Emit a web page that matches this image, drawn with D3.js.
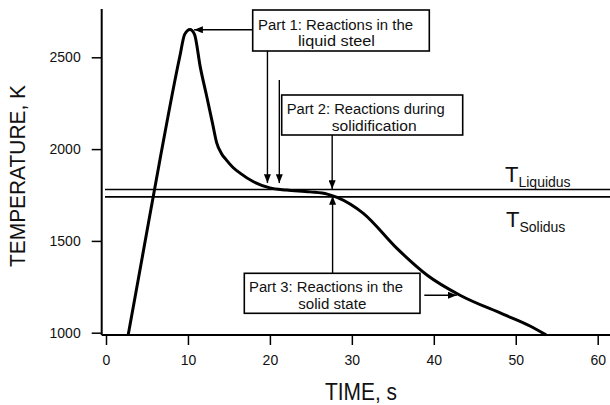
<!DOCTYPE html>
<html>
<head>
<meta charset="utf-8">
<script src="https://cdn.jsdelivr.net/npm/d3@7"></script>
<style>
  body { margin: 0; background: #fff; }
  text { font-family: "Liberation Sans", Arial, sans-serif; fill: #111; }
</style>
</head>
<body>
<svg id="chart" width="610" height="405"></svg>
<script>
// curve: time (s) and temperature (K)
var time = [2.7, 4.6, 6.5, 9.0, 9.6, 10.25, 10.8, 11.5, 12.3, 13.0, 13.5, 14.1, 14.7, 15.5, 16.4, 18.0, 20.0, 22.0, 24.9, 27.0, 28.2, 31.4, 35.5, 39.2, 43.2, 48.5, 51.8, 53.7]
var temp = [986, 1454, 1922, 2503, 2625, 2652, 2625, 2448, 2285, 2140, 2035, 1975, 1940, 1900, 1868, 1822, 1789, 1777, 1767, 1755, 1737, 1650, 1459, 1313, 1204, 1100, 1035, 988]

var liquidus = 1780
var solidus = 1740

var xTicks = [0, 10, 20, 30, 40, 50, 60]
var yTicks = [1000, 1500, 2000, 2500]

// annotation texts and where their arrows point (time, temperature)
var boxText = [
    ["Part 1: Reactions in the", "liquid steel"],
    ["Part 2: Reactions during", "solidification"],
    ["Part 3: Reactions in the", "solid state"]
]
var arrowTips = [
    [10.75, 2650], [19.7, 1815], [21.15, 1815],
    [27.6, 1782], [27.65, 1744], [42.8, 1204]
]

var svg = d3.select("#chart")

var x = d3.scaleLinear().domain([0, 60]).range([106, 597.7])
var y = d3.scaleLinear().domain([1000, 2500]).range([332.7, 57.3])

var axisX = 101.7
var axisY = 335

// arrow head
svg.append("defs").append("marker")
    .attr("id", "head")
    .attr("markerUnits", "userSpaceOnUse")
    .attr("viewBox", "0 0 10 8")
    .attr("refX", 10).attr("refY", 4)
    .attr("markerWidth", 10).attr("markerHeight", 7)
    .attr("orient", "auto")
    .append("path")
    .attr("d", "M0,0L10,4L0,8Z")
    .attr("fill", "#000")

// y axis
svg.append("line")
    .attr("x1", axisX).attr("x2", axisX)
    .attr("y1", 9).attr("y2", axisY)
    .attr("stroke", "#000").attr("stroke-width", 2)

var yAxis = d3.axisLeft(y).tickValues(yTicks).tickFormat(d3.format("d"))
    .tickSize(10).tickSizeOuter(0).tickPadding(11)
svg.append("g")
    .attr("transform", "translate(" + axisX + ",0)")
    .call(yAxis)
    .call(function (g) { g.select(".domain").remove() })
    .call(function (g) {
        g.selectAll(".tick line").attr("stroke", "#000").attr("stroke-width", 1.5)
        g.selectAll(".tick text").style("font-size", "14px").attr("fill", "#222")
    })

// x axis
svg.append("line")
    .attr("x1", axisX).attr("x2", 610)
    .attr("y1", axisY).attr("y2", axisY)
    .attr("stroke", "#000").attr("stroke-width", 2)

var xAxis = d3.axisBottom(x).tickValues(xTicks).tickSize(10).tickSizeOuter(0).tickPadding(10)
svg.append("g")
    .attr("transform", "translate(0," + axisY + ")")
    .call(xAxis)
    .call(function (g) { g.select(".domain").remove() })
    .call(function (g) {
        g.selectAll(".tick line").attr("stroke", "#000").attr("stroke-width", 1.5)
        g.selectAll(".tick text").style("font-size", "14px").attr("fill", "#222")
    })

// axis titles
svg.append("text")
    .attr("x", 361).attr("y", 400)
    .attr("text-anchor", "middle")
    .attr("textLength", 72).attr("lengthAdjust", "spacingAndGlyphs")
    .style("font-size", "23px")
    .text("TIME, s")

svg.append("text")
    .attr("transform", "translate(25,176) rotate(-90)")
    .attr("text-anchor", "middle")
    .attr("textLength", 182).attr("lengthAdjust", "spacingAndGlyphs")
    .style("font-size", "22px")
    .text("TEMPERATURE, K")

// liquidus and solidus lines
svg.selectAll(".phase")
    .data([liquidus, solidus])
    .enter()
    .append("line")
    .attr("x1", 105).attr("x2", 610)
    .attr("y1", function (d) { return y(d) })
    .attr("y2", function (d) { return y(d) })
    .attr("stroke", "#000").attr("stroke-width", 1.6)

function tLabel(xp, yp, sub) {
    var t = svg.append("text").attr("x", xp).attr("y", yp).style("font-size", "22px")
    t.append("tspan").text("T")
    t.append("tspan").attr("dy", 5).style("font-size", "14px").text(sub)
}
tLabel(505, 182, "Liquidus")
tLabel(506, 227, "Solidus")

// the temperature curve
var points = time.map(function (t, i) { return [t, temp[i]] })
var line = d3.line()
    .x(function (d) { return x(d[0]) })
    .y(function (d) { return y(d[1]) })
    .curve(d3.curveMonotoneX)

svg.append("path")
    .datum(points)
    .attr("d", line)
    .attr("fill", "none")
    .attr("stroke", "#000")
    .attr("stroke-width", 3)
    .attr("stroke-linejoin", "round")

// annotation boxes
var boxes = [
    { x0: 252.7, x1: 429.3, y0: 10, y1: 51, tx: [258, 298], ty: [29.5, 45.5], tw: [155, 77] },
    { x0: 281.7, x1: 462.7, y0: 95, y1: 135, tx: [286.7, 331.7], ty: [114, 130.5], tw: [158, 85] },
    { x0: 244.3, x1: 420, y0: 273.3, y1: 313.3, tx: [249, 298.3], ty: [292, 308.5], tw: [154, 68] }
]

boxes.forEach(function (b, i) {
    svg.append("rect")
        .attr("x", b.x0).attr("y", b.y0)
        .attr("width", b.x1 - b.x0).attr("height", b.y1 - b.y0)
        .attr("fill", "#fff").attr("stroke", "#000").attr("stroke-width", 1.6)
    boxText[i].forEach(function (s, j) {
        svg.append("text")
            .attr("x", b.tx[j]).attr("y", b.ty[j])
            .attr("textLength", b.tw[j]).attr("lengthAdjust", "spacingAndGlyphs")
            .style("font-size", "14px")
            .text(s)
    })
})

// arrows: start point in pixels next to the boxes, tip from the data
var arrowStarts = [
    [252.7, null], [null, 51], [null, 80],
    [null, 135], [null, 273.3], [424.3, null]
]

arrowTips.forEach(function (tip, i) {
    var tx = x(tip[0]), ty = y(tip[1])
    var s = arrowStarts[i]
    var sx = s[0] === null ? tx : s[0]
    var sy = s[1] === null ? ty : s[1]
    svg.append("line")
        .attr("x1", sx).attr("y1", sy)
        .attr("x2", tx).attr("y2", ty)
        .attr("stroke", "#000").attr("stroke-width", 1.4)
        .attr("marker-end", "url(#head)")
})
</script>
</body>
</html>
